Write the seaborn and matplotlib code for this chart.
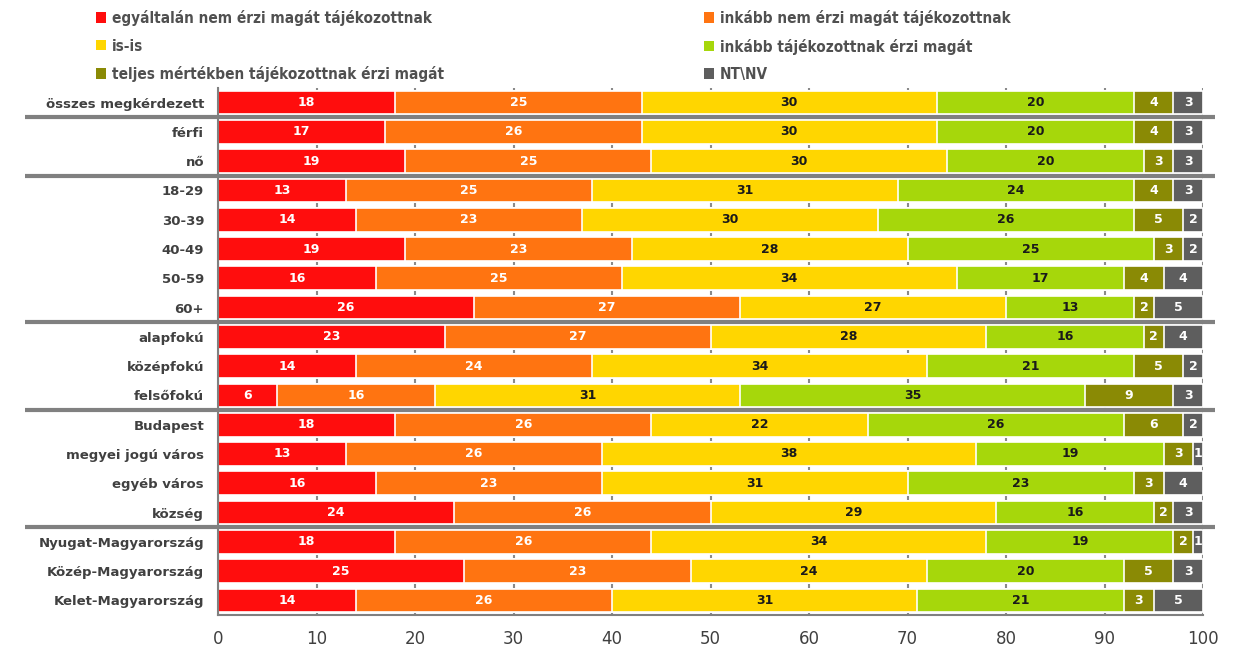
import matplotlib
matplotlib.use("Agg")
import matplotlib.pyplot as plt
import seaborn as sns
import numpy as np
import pandas as pd
from matplotlib.patches import Patch
from matplotlib.font_manager import FontProperties
import matplotlib.transforms as mtransforms

categories = ["összes megkérdezett", "férfi", "nő", "18-29", "30-39", "40-49", "50-59", "60+",
              "alapfokú", "középfokú", "felsőfokú", "Budapest", "megyei jogú város",
              "egyéb város", "község", "Nyugat-Magyarország", "Közép-Magyarország",
              "Kelet-Magyarország"]
series_names = ["egyáltalán nem érzi magát tájékozottnak", "inkább nem érzi magát tájékozottnak",
                "is-is", "inkább tájékozottnak érzi magát",
                "teljes mértékben tájékozottnak érzi magát", "NT\\NV"]
s1 = [18, 17, 19, 13, 14, 19, 16, 26, 23, 14, 6, 18, 13, 16, 24, 18, 25, 14]
s2 = [25, 26, 25, 25, 23, 23, 25, 27, 27, 24, 16, 26, 26, 23, 26, 26, 23, 26]
s3 = [30, 30, 30, 31, 30, 28, 34, 27, 28, 34, 31, 22, 38, 31, 29, 34, 24, 31]
s4 = [20, 20, 20, 24, 26, 25, 17, 13, 16, 21, 35, 26, 19, 23, 16, 19, 20, 21]
s5 = [4, 4, 3, 4, 5, 3, 4, 2, 2, 5, 9, 6, 3, 3, 2, 2, 5, 3]
s6 = [3, 3, 3, 3, 2, 2, 4, 5, 4, 2, 3, 2, 1, 4, 3, 1, 3, 5]
xticks = [0, 10, 20, 30, 40, 50, 60, 70, 80, 90, 100]
separators_after = [0, 2, 7, 10, 14]

colors = ["#FF0D0D", "#FF7411", "#FFD600", "#A6D70B", "#8A8A05", "#5E5E5E"]
text_colors = ["white", "white", "#1a1a1a", "#1a1a1a", "white", "white"]

sns.set_style("white")
plt.rcParams['font.family'] = ['DejaVu Sans']

series = [s1, s2, s3, s4, s5, s6]
vals = np.array(series, dtype=float)
cum = np.cumsum(vals, axis=0)

fig = plt.figure(figsize=(12.34, 6.47), dpi=100)
ax = fig.add_axes([218/1234, 1-615/647, 985/1234, 527/647])

for i in range(5, -1, -1):
    df = pd.DataFrame({"cat": categories, "val": cum[i]})
    sns.barplot(data=df, y="cat", x="val", order=categories, orient="h",
                color=colors[i], saturation=1, width=0.81, ax=ax,
                edgecolor="white", linewidth=1.2, zorder=2)

for i in range(6):
    for j in range(len(categories)):
        v = vals[i, j]
        xc = cum[i, j] - v / 2
        ax.text(xc, j, f"{int(v)}", ha="center", va="center", fontsize=9,
                fontweight="bold", color=text_colors[i], zorder=5)

ax.set_xlim(0, 100)
ax.set_ylim(17.47, -0.41)
ax.set_xticks(xticks)
ax.set_xticklabels([str(t) for t in xticks], fontsize=12, color="#404040")
ax.set_yticks(range(len(categories)))
ax.set_yticklabels(categories, fontsize=9.5, fontweight="bold", color="#404040")
ax.tick_params(axis="y", length=0, pad=10)
ax.tick_params(axis="x", length=5, width=1.5, color="#808080", direction="out", pad=6)
ax.set_xlabel("")
ax.set_ylabel("")
ax.xaxis.grid(True, color="#8a8a8a", linewidth=1.5, zorder=0)
ax.set_axisbelow(True)
for sp in ["top", "right"]:
    ax.spines[sp].set_visible(False)
for sp in ["left", "bottom"]:
    ax.spines[sp].set_color("#808080")
    ax.spines[sp].set_linewidth(1.5)

ax.set_yticks(np.arange(-0.5, len(categories), 1), minor=True)
ax.tick_params(axis="y", which="minor", length=4, width=1.2, color="#808080")

trans = mtransforms.blended_transform_factory(ax.transAxes, ax.transData)
for k in separators_after:
    y = k + 0.5
    ax.plot([(25-218)/985, (1215-218)/985], [y, y], color="#808080", linewidth=3,
            transform=trans, clip_on=False, zorder=6, solid_capstyle="butt")

handles = [Patch(facecolor=c, edgecolor="none") for c in colors]
legend_font = FontProperties(family="DejaVu Sans", weight="bold", stretch="condensed", size=11)
common = dict(loc="upper left", ncol=1, frameon=False, borderpad=0, borderaxespad=0,
              handlelength=0.68, handleheight=0.68, handletextpad=0.35,
              labelspacing=0.82, labelcolor="#505050", prop=legend_font)
leg1 = fig.legend([handles[i] for i in (0, 2, 4)], [series_names[i] for i in (0, 2, 4)],
                  bbox_to_anchor=(96/1234, 1 - 10/647), **common)
leg2 = fig.legend([handles[i] for i in (1, 3, 5)], [series_names[i] for i in (1, 3, 5)],
                  bbox_to_anchor=(704/1234, 1 - 10/647), **common)

fig.savefig("out.png", dpi=100)
